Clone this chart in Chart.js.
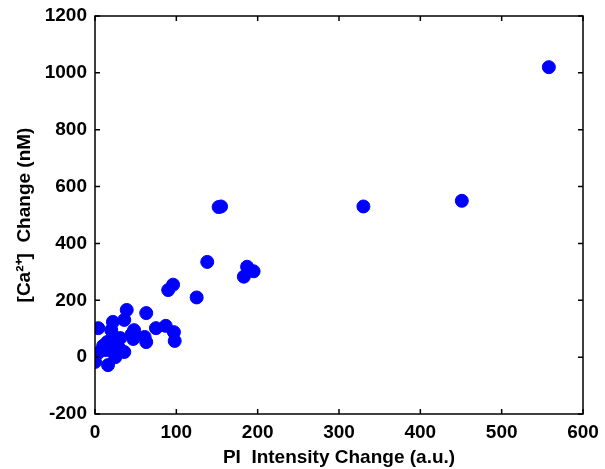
<!DOCTYPE html>
<html>
<head>
<meta charset="utf-8">
<script src="https://cdn.jsdelivr.net/npm/chart.js@4"></script>
<style>
  html, body { margin: 0; padding: 0; background: #fff; }
  #wrap { width: 605px; height: 469px; }
</style>
</head>
<body>
<div id="wrap"><canvas id="scatterChart"></canvas></div>
<script>
// PI intensity change (a.u.) vs [Ca2+] change (nM)
const piChange = [0, 4, 4, 12, 15, 16, 18, 20, 22, 25, 27, 31, 36, 36, 39, 47, 48, 61, 63, 63,
    75, 87, 90, 96, 97, 98, 125, 138, 152, 155, 183, 187, 195, 330, 451, 558, 10, 30, 20, 45];
const caChange = [-17, 102, 15, 25, 53, -28, 25, 95, 124, 0, 43, 67, 18, 131, 166, 64, 95, 71, 53, 155,
    102, 110, 236, 255, 88, 57, 210, 335, 528, 530, 283, 318, 302, 530, 550, 1020, 40, 30, 60, 80];
const xTicks = [0, 100, 200, 300, 400, 500, 600];
const yTicks = [-200, 0, 200, 400, 600, 800, 1000, 1200];

const points = piChange.map((x, i) => ({ x: x, y: caChange[i] }));

// matlab style box with inward ticks
const boxPlugin = {
    id: 'box',
    afterDraw(chart) {
        const ctx = chart.ctx;
        const a = chart.chartArea;
        const xs = chart.scales.x, ys = chart.scales.y;
        ctx.save();
        ctx.strokeStyle = '#000';
        ctx.lineWidth = 1.5;
        ctx.strokeRect(a.left, a.top, a.right - a.left, a.bottom - a.top);
        ctx.beginPath();
        xTicks.forEach(v => {
            const px = xs.getPixelForValue(v);
            ctx.moveTo(px, a.bottom); ctx.lineTo(px, a.bottom - 5);
            ctx.moveTo(px, a.top); ctx.lineTo(px, a.top + 5);
        });
        yTicks.forEach(v => {
            const py = ys.getPixelForValue(v);
            ctx.moveTo(a.left, py); ctx.lineTo(a.left + 5, py);
            ctx.moveTo(a.right, py); ctx.lineTo(a.right - 5, py);
        });
        ctx.stroke();
        ctx.restore();
    }
};

const tickFont = { family: 'Liberation Sans', size: 19, weight: 'bold' };

new Chart('scatterChart', {
    type: 'scatter',
    data: {
        datasets: [{
            data: points,
            backgroundColor: '#0000ff',
            borderColor: '#0000ff',
            pointRadius: 6.5,
            pointHoverRadius: 6.5
        }]
    },
    options: {
        responsive: true,
        maintainAspectRatio: false,
        animation: false,
        layout: { padding: { top: 16, right: 22, left: 13, bottom: 0 } },
        plugins: { legend: { display: false }, tooltip: { enabled: false } },
        scales: {
            x: {
                type: 'linear', min: 0, max: 600,
                afterBuildTicks: s => { s.ticks = xTicks.map(v => ({ value: v })); },
                afterFit: s => { s.height = 55; s.paddingLeft = 0; s.paddingRight = 0; },
                grid: { display: false, drawTicks: false },
                border: { display: false },
                ticks: { color: '#000', font: tickFont, padding: 7, maxRotation: 0, callback: v => String(v) },
                title: { display: true, text: 'PI  Intensity Change (a.u.)', color: '#000', font: tickFont, padding: { top: 0, bottom: 0 } }
            },
            y: {
                type: 'linear', min: -200, max: 1200,
                afterBuildTicks: s => { s.ticks = yTicks.map(v => ({ value: v })); },
                afterFit: s => { s.width = 82; s.paddingTop = 0; s.paddingBottom = 0; },
                grid: { display: false, drawTicks: false },
                border: { display: false },
                ticks: { color: '#000', font: tickFont, padding: 8, callback: v => String(v) },
                title: { display: true, text: '[Ca²⁺]  Change (nM)', color: '#000', font: tickFont, padding: { top: 0, bottom: 2 } }
            }
        }
    },
    plugins: [boxPlugin]
});
</script>
</body>
</html>
